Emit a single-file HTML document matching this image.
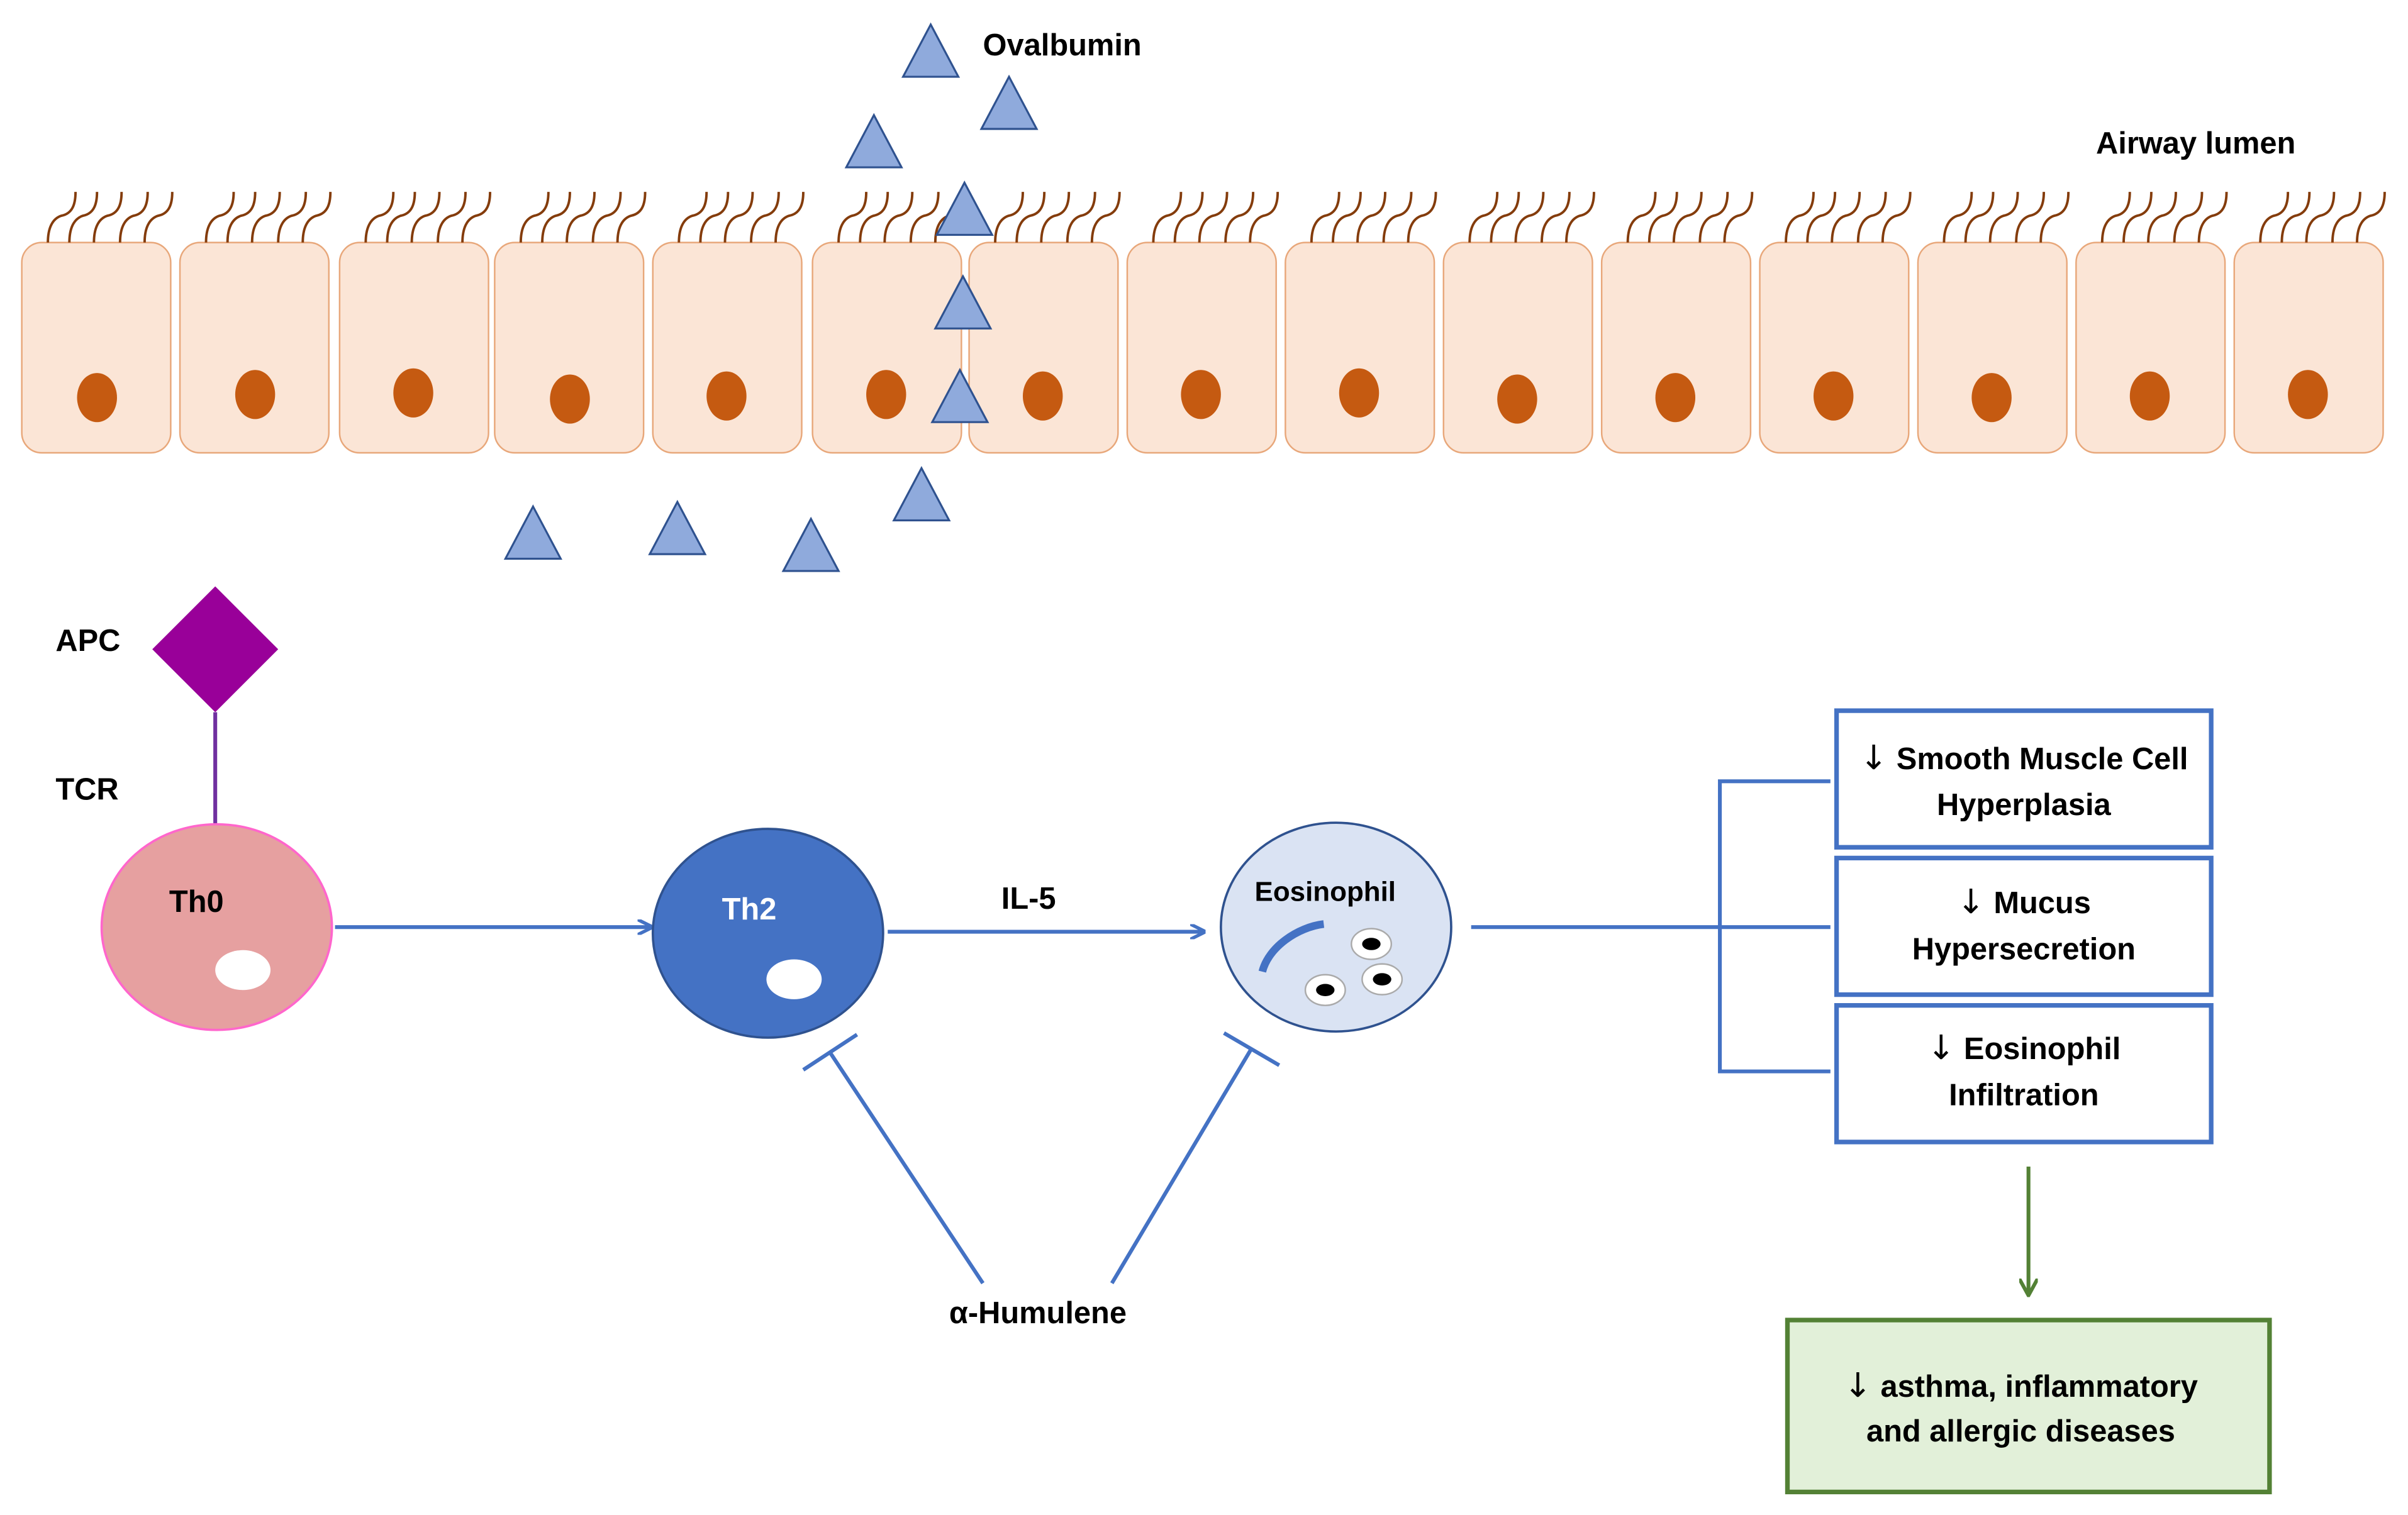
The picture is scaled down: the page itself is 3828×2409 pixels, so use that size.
<!DOCTYPE html>
<html><head><meta charset="utf-8"><style>html,body{margin:0;padding:0;background:#fff}svg{display:block}text{font-family:"Liberation Sans",sans-serif;font-weight:bold}.ar{font-family:"DejaVu Sans",sans-serif;font-weight:normal;font-size:22px}</style></head>
<body>
<svg width="3828" height="2409" viewBox="0 0 1568 987" xmlns="http://www.w3.org/2000/svg">
<defs>
<marker id="ab" markerWidth="10" markerHeight="10" refX="9" refY="5" orient="auto" markerUnits="userSpaceOnUse"><path d="M0,0 L10,5 L0,10" fill="none" stroke="#4472c4" stroke-width="2.2"/></marker>
<marker id="ag" markerWidth="12" markerHeight="12" refX="10" refY="6" orient="auto" markerUnits="userSpaceOnUse"><path d="M0,0 L11,6 L0,12" fill="none" stroke="#538135" stroke-width="2.4"/></marker>
<g id="cil" fill="none" stroke="#843c0c" stroke-width="1.6">
<path d="M0,33 C0,22 4,17 9,15.5 C16,14 18,8 18,0"/>
</g>
<g id="cell">
<rect x="0" y="0" width="97" height="137" rx="13" fill="#fbe5d6" stroke="#e8a77a" stroke-width="1"/>
<use href="#cil" x="17" y="-33"/><use href="#cil" x="31" y="-33"/><use href="#cil" x="47" y="-33"/><use href="#cil" x="64" y="-33"/><use href="#cil" x="80" y="-33"/>
</g>
<polygon id="tri" points="0,-17 18,17 -18,17" fill="#8faadc" stroke="#2f528f" stroke-width="1.3"/>
</defs>
<g>
<use href="#cell" x="14" y="158"/><use href="#cell" x="117" y="158"/><use href="#cell" x="221" y="158"/><use href="#cell" x="322" y="158"/><use href="#cell" x="425" y="158"/><use href="#cell" x="529" y="158"/><use href="#cell" x="631" y="158"/><use href="#cell" x="734" y="158"/><use href="#cell" x="837" y="158"/><use href="#cell" x="940" y="158"/><use href="#cell" x="1043" y="158"/><use href="#cell" x="1146" y="158"/><use href="#cell" x="1249" y="158"/><use href="#cell" x="1352" y="158"/><use href="#cell" x="1455" y="158"/>
</g>
<g fill="#c55a11">
<ellipse cx="63" cy="259" rx="13" ry="16"/><ellipse cx="166" cy="257" rx="13" ry="16"/><ellipse cx="269" cy="256" rx="13" ry="16"/><ellipse cx="371" cy="260" rx="13" ry="16"/><ellipse cx="473" cy="258" rx="13" ry="16"/><ellipse cx="577" cy="257" rx="13" ry="16"/><ellipse cx="679" cy="258" rx="13" ry="16"/><ellipse cx="782" cy="257" rx="13" ry="16"/><ellipse cx="885" cy="256" rx="13" ry="16"/><ellipse cx="988" cy="260" rx="13" ry="16"/><ellipse cx="1091" cy="259" rx="13" ry="16"/><ellipse cx="1194" cy="258" rx="13" ry="16"/><ellipse cx="1297" cy="259" rx="13" ry="16"/><ellipse cx="1400" cy="258" rx="13" ry="16"/><ellipse cx="1503" cy="257" rx="13" ry="16"/>
</g>
<use href="#tri" x="606" y="33"/><use href="#tri" x="657" y="67"/><use href="#tri" x="569" y="92"/><use href="#tri" x="628" y="136"/><use href="#tri" x="627" y="197"/><use href="#tri" x="625" y="258"/><use href="#tri" x="600" y="322"/><use href="#tri" x="347" y="347"/><use href="#tri" x="441" y="344"/><use href="#tri" x="528" y="355"/>
<text x="640" y="36" font-size="20">Ovalbumin</text>
<text x="1365" y="100" font-size="20">Airway lumen</text>
<polygon points="140,382 181,423 140,464 99,423" fill="#990099"/>
<line x1="140" y1="464" x2="140" y2="537" stroke="#7030a0" stroke-width="2.5"/>
<text x="36" y="424" font-size="20">APC</text>
<text x="36" y="521" font-size="20">TCR</text>
<ellipse cx="141" cy="604" rx="75" ry="67" fill="#e6a0a0" stroke="#ff66cc" stroke-width="1.5"/>
<ellipse cx="158" cy="632" rx="18" ry="13" fill="#fff"/>
<text x="110" y="594" font-size="20">Th0</text>
<line x1="218" y1="604" x2="424" y2="604" stroke="#4472c4" stroke-width="2.5" marker-end="url(#ab)"/>
<ellipse cx="500" cy="608" rx="75" ry="68" fill="#4472c4" stroke="#2f528f" stroke-width="1.5"/>
<ellipse cx="517" cy="638" rx="18" ry="13" fill="#fff"/>
<text x="470" y="599" font-size="20" fill="#fff">Th2</text>
<text x="652" y="592" font-size="20">IL-5</text>
<line x1="578" y1="607" x2="784" y2="607" stroke="#4472c4" stroke-width="2.5" marker-end="url(#ab)"/>
<ellipse cx="870" cy="604" rx="75" ry="68" fill="#dae3f3" stroke="#2f528f" stroke-width="1.5"/>
<text x="817" y="587" font-size="18">Eosinophil</text>
<path d="M822,633 C826,617 845,604 862,602" fill="none" stroke="#4472c4" stroke-width="5"/>
<g fill="#fff" stroke="#aaa" stroke-width="1"><ellipse cx="893" cy="615" rx="13" ry="10"/><ellipse cx="863" cy="645" rx="13" ry="10"/><ellipse cx="900" cy="638" rx="13" ry="10"/></g>
<g fill="#000"><ellipse cx="893" cy="615" rx="6" ry="4"/><ellipse cx="863" cy="645" rx="6" ry="4"/><ellipse cx="900" cy="638" rx="6" ry="4"/></g>
<g stroke="#4472c4" stroke-width="2.5" fill="none">
<line x1="958" y1="604" x2="1192" y2="604"/>
<polyline points="1192,509 1120,509 1120,698 1192,698"/>
<line x1="640" y1="836" x2="540" y2="685"/>
<line x1="523" y1="697" x2="558" y2="674"/>
<line x1="724" y1="836" x2="815" y2="683"/>
<line x1="797" y1="673" x2="833" y2="694"/>
</g>
<text x="618" y="862" font-size="20">α-Humulene</text>
<g fill="#fff" stroke="#4472c4" stroke-width="3">
<rect x="1196" y="463" width="244" height="89"/>
<rect x="1196" y="559" width="244" height="89"/>
<rect x="1196" y="655" width="244" height="89"/>
</g>
<g font-size="20" text-anchor="middle">
<text x="1318" y="501"><tspan class="ar">↓</tspan> Smooth Muscle Cell</text>
<text x="1318" y="531">Hyperplasia</text>
<text x="1318" y="595"><tspan class="ar">↓</tspan> Mucus</text>
<text x="1318" y="625">Hypersecretion</text>
<text x="1318" y="690"><tspan class="ar">↓</tspan> Eosinophil</text>
<text x="1318" y="720">Infiltration</text>
</g>
<line x1="1321" y1="760" x2="1321" y2="843" stroke="#538135" stroke-width="2.5" marker-end="url(#ag)"/>
<rect x="1164" y="860" width="314" height="112" fill="#e2f0d9" stroke="#538135" stroke-width="3"/>
<g font-size="20" text-anchor="middle">
<text x="1316" y="910"><tspan class="ar">↓</tspan> asthma, inflammatory</text>
<text x="1316" y="939">and allergic diseases</text>
</g>
</svg>
</body></html>
